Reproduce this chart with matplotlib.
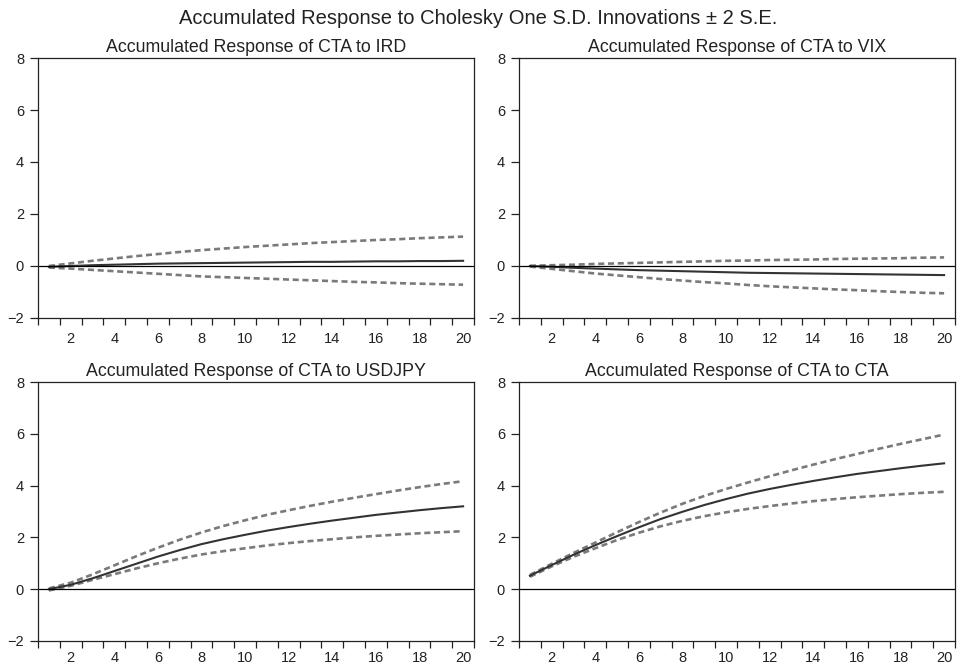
import matplotlib
matplotlib.use("Agg")
import matplotlib.pyplot as plt
from matplotlib.ticker import FixedLocator, FixedFormatter

plt.rcParams['font.family'] = ['Liberation Sans', 'DejaVu Sans']

periods = list(range(1, 21))

# Accumulated response of CTA to IRD
ird_resp = [-0.03, 0.00, 0.03, 0.05, 0.07, 0.09, 0.10, 0.11, 0.12, 0.13,
            0.14, 0.15, 0.16, 0.16, 0.17, 0.18, 0.18, 0.19, 0.19, 0.20]
ird_up = [0.00, 0.10, 0.20, 0.29, 0.38, 0.46, 0.54, 0.61, 0.67, 0.73,
          0.78, 0.83, 0.88, 0.92, 0.96, 1.00, 1.03, 1.07, 1.10, 1.13]
ird_lo = [-0.06, -0.10, -0.15, -0.20, -0.25, -0.30, -0.35, -0.40, -0.43, -0.46,
          -0.49, -0.52, -0.55, -0.58, -0.61, -0.63, -0.66, -0.68, -0.70, -0.72]

# Accumulated response of CTA to VIX
vix_resp = [0.00, -0.03, -0.07, -0.10, -0.13, -0.16, -0.18, -0.20, -0.22, -0.24,
            -0.26, -0.27, -0.28, -0.29, -0.30, -0.31, -0.32, -0.33, -0.34, -0.35]
vix_up = [0.01, 0.03, 0.05, 0.08, 0.10, 0.12, 0.14, 0.16, 0.18, 0.20,
          0.21, 0.23, 0.24, 0.25, 0.27, 0.28, 0.29, 0.30, 0.32, 0.33]
vix_lo = [-0.02, -0.11, -0.20, -0.29, -0.36, -0.43, -0.50, -0.56, -0.62, -0.67,
          -0.73, -0.78, -0.82, -0.86, -0.90, -0.93, -0.97, -1.00, -1.03, -1.05]

# Accumulated response of CTA to USDJPY
jpy_resp = [0.00, 0.17, 0.42, 0.70, 0.98, 1.26, 1.51, 1.74, 1.93, 2.10,
            2.26, 2.40, 2.53, 2.65, 2.76, 2.87, 2.96, 3.05, 3.13, 3.20]
jpy_up = [0.03, 0.25, 0.57, 0.92, 1.27, 1.60, 1.91, 2.19, 2.44, 2.66,
          2.87, 3.05, 3.22, 3.38, 3.53, 3.67, 3.81, 3.94, 4.06, 4.17]
jpy_lo = [-0.05, 0.13, 0.36, 0.58, 0.80, 1.00, 1.18, 1.34, 1.47, 1.58,
          1.69, 1.78, 1.86, 1.93, 2.00, 2.06, 2.11, 2.16, 2.20, 2.24]

# Accumulated response of CTA to CTA
cta_resp = [0.52, 0.93, 1.33, 1.70, 2.05, 2.39, 2.71, 2.99, 3.25, 3.48,
            3.69, 3.87, 4.03, 4.18, 4.32, 4.45, 4.56, 4.67, 4.77, 4.86]
cta_up = [0.55, 0.98, 1.40, 1.80, 2.20, 2.59, 2.96, 3.30, 3.60, 3.87,
          4.12, 4.36, 4.59, 4.81, 5.02, 5.22, 5.42, 5.61, 5.79, 5.97]
cta_lo = [0.48, 0.88, 1.25, 1.58, 1.90, 2.18, 2.43, 2.64, 2.82, 2.97,
          3.10, 3.21, 3.31, 3.40, 3.48, 3.55, 3.61, 3.67, 3.72, 3.76]

titles = ["Accumulated Response of CTA to IRD",
          "Accumulated Response of CTA to VIX",
          "Accumulated Response of CTA to USDJPY",
          "Accumulated Response of CTA to CTA"]
panels = [(ird_resp, ird_up, ird_lo), (vix_resp, vix_up, vix_lo),
          (jpy_resp, jpy_up, jpy_lo), (cta_resp, cta_up, cta_lo)]

y_ticks = [-2, 0, 2, 4, 6, 8]
y_labels = ["\u22122", "0", "2", "4", "6", "8"]
x_label_pos = [2, 4, 6, 8, 10, 12, 14, 16, 18, 20]
x_labels = [str(v) for v in x_label_pos]

fig = plt.figure(figsize=(9.57, 6.67), dpi=100)
W, H = 957, 667
boxes = [(38, 58, 474, 318), (519, 58, 955, 318),
         (38, 382, 474, 641), (519, 382, 955, 641)]
x_pads = [10, 10, 7.5, 7.5]

for (l, t, r, b), title, (resp, up, lo), xpad in zip(boxes, titles, panels, x_pads):
    ax = fig.add_axes([l / W, 1 - b / H, (r - l) / W, (b - t) / H])
    ax.plot(periods, up, color='#7a7a7a', lw=1.9, ls=(0, (2.3, 1.4)))
    ax.plot(periods, lo, color='#7a7a7a', lw=1.9, ls=(0, (2.3, 1.4)))
    ax.plot(periods, resp, color='#333333', lw=1.5)
    ax.axhline(0, color='black', lw=0.9)
    ax.set_xlim(0.5, 20.5)
    ax.set_ylim(-2, 8)
    ax.set_yticks(y_ticks)
    ax.set_yticklabels(y_labels)
    ax.xaxis.set_major_locator(FixedLocator(x_label_pos))
    ax.xaxis.set_major_formatter(FixedFormatter(x_labels))
    ax.xaxis.set_minor_locator(FixedLocator([v + 0.5 for v in range(0, 21)]))
    ax.tick_params(axis='x', which='major', length=0, pad=xpad, labelsize=10.5, colors='#222222')
    ax.tick_params(axis='x', which='minor', length=5, width=0.9, direction='out', color='#222222')
    ax.tick_params(axis='y', which='major', length=6, width=0.9, direction='out',
                   labelsize=10.5, colors='#222222', pad=4)
    for s in ax.spines.values():
        s.set_linewidth(0.9)
        s.set_color('#222222')
    ax.set_title(title, fontsize=12.8, color='#222222', pad=4)

fig.text(0.5, 1 - 19 / H, "Accumulated Response to Cholesky One S.D. Innovations \u00b1 2 S.E.",
         ha='center', va='center', fontsize=14.5, color='#222222')

fig.savefig("out.png", dpi=100)
